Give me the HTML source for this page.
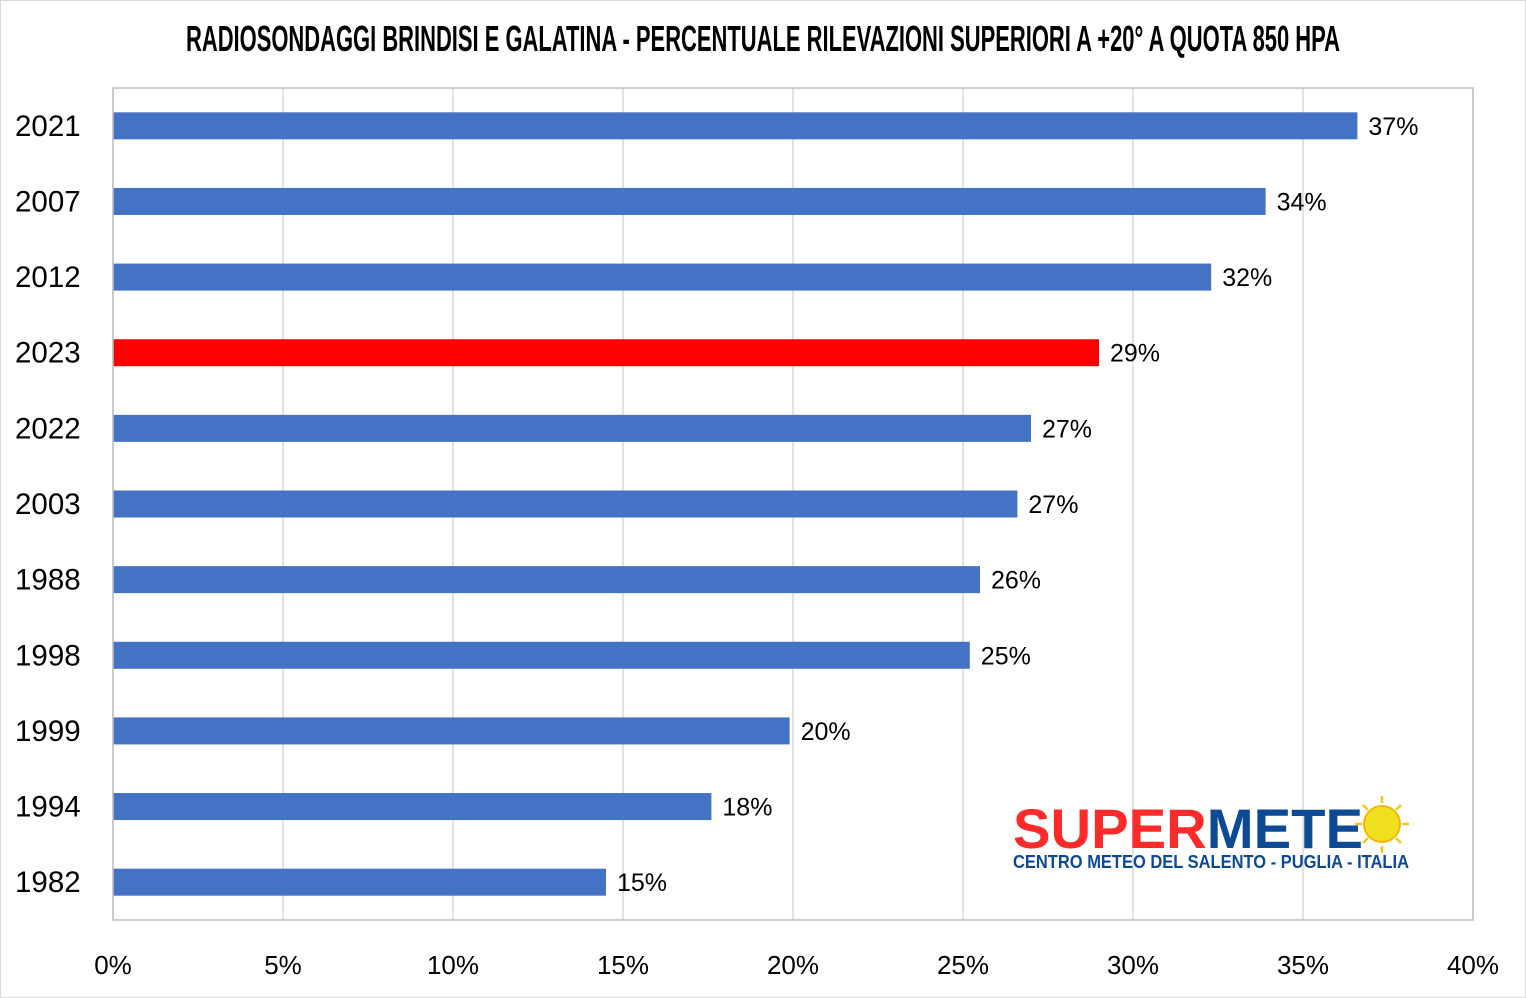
<!DOCTYPE html>
<html><head><meta charset="utf-8"><style>
body{margin:0;background:#fff;}
svg{display:block;font-family:"Liberation Sans",sans-serif;}
</style></head><body>
<svg id="chart" width="1526" height="998" xmlns="http://www.w3.org/2000/svg">
<rect x="0.5" y="0.5" width="1525" height="997" fill="#fff" stroke="#d9d9d9"/>
<text x="186" y="51" textLength="1154" lengthAdjust="spacingAndGlyphs" font-size="36" font-weight="bold" fill="#000">RADIOSONDAGGI BRINDISI E GALATINA - PERCENTUALE RILEVAZIONI SUPERIORI A +20° A QUOTA 850 HPA</text>
<g id="grid"></g>
<g id="bars"></g>
<g id="axes"></g>
<g>
<g stroke="#f5c518" stroke-width="2.5">
<line x1="1382" y1="796" x2="1382" y2="803"/><line x1="1382" y1="846" x2="1382" y2="853"/>
<line x1="1355" y1="824" x2="1362" y2="824"/><line x1="1402" y1="824" x2="1409" y2="824"/>
<line x1="1363" y1="805" x2="1368" y2="810"/><line x1="1396" y1="838" x2="1401" y2="843"/>
<line x1="1401" y1="805" x2="1396" y2="810"/><line x1="1368" y1="838" x2="1363" y2="843"/>
<circle cx="1382" cy="824" r="18" fill="#f0e020" stroke="#f5b800" stroke-width="2"/>
</g>
<text x="1013" y="848" font-size="56" font-weight="bold" textLength="350" lengthAdjust="spacingAndGlyphs"><tspan fill="#ff2a2a">SUPER</tspan><tspan fill="#0d4a96">METE</tspan></text>
<text x="1013" y="868" font-size="18" font-weight="bold" fill="#0d4a96" textLength="396" lengthAdjust="spacingAndGlyphs">CENTRO METEO DEL SALENTO - PUGLIA - ITALIA</text>
</g>
</svg>
<script>
const categories=["2021","2007","2012","2023","2022","2003","1988","1998","1999","1994","1982"];
const values=[36.6,33.9,32.3,29.0,27.0,26.6,25.5,25.2,19.9,17.6,14.5];
const labels=["37%","34%","32%","29%","27%","27%","26%","25%","20%","18%","15%"];
const highlight=["2023"];
const ticks=[0,5,10,15,20,25,30,35,40];
const NS="http://www.w3.org/2000/svg";
const L=113,R=1473,T=88,B=920,MAX=40;
const x=v=>L+(v/MAX)*(R-L);
const band=(B-T)/categories.length;
const y=i=>T+band*(i+0.5);
function mk(tag,attrs,parent){const e=document.createElementNS(NS,tag);for(const k in attrs)e.setAttribute(k,attrs[k]);parent.appendChild(e);return e;}
const grid=document.getElementById('grid'),bars=document.getElementById('bars'),axes=document.getElementById('axes');
ticks.forEach(t=>{
  const g=mk('line',{x1:x(t),x2:x(t),y1:T,y2:B,stroke:'#d9d9d9','stroke-width':1.5},grid);
  
  
  const tl=mk('text',{x:x(t),y:974,'font-size':26,'text-anchor':'middle',fill:'#000'},axes);
  tl.textContent=t+'%';
  
  
});
const fr=mk('rect',{x:L,y:T,width:R-L,height:B-T,fill:'none',stroke:'#bfbfbf','stroke-width':1.5},axes);


categories.forEach((c,i)=>{
  const r=mk('rect',{x:L,y:y(i)-13.5,width:x(values[i])-L,height:27,fill:highlight.includes(c)?'#ff0000':'#4472c4'},bars);
  
  
  const dl=mk('text',{x:x(values[i])+11,y:y(i)+9,'font-size':25,fill:'#000'},bars);
  dl.textContent=labels[i];
  
  
  const cl=mk('text',{x:15,y:y(i)+10,'font-size':29.5,fill:'#000'},axes);
  cl.textContent=c;
  
  
});
</script>
</body></html>
